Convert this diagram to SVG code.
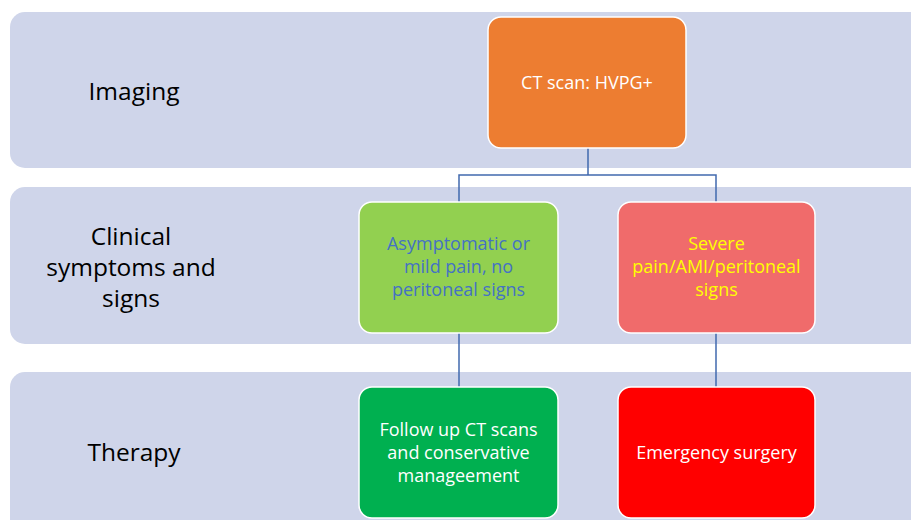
<svg xmlns="http://www.w3.org/2000/svg" width="911" height="520" viewBox="0 0 911 520">
<style>
.band{fill:#CFD5EA}
.lbl{font-family:"Open Sans","Noto Sans",sans-serif;font-size:24.5px;fill:#000;text-anchor:middle}
.box{stroke:#FFFFFF;stroke-width:1.5}
.t{font-family:"Open Sans","Noto Sans",sans-serif;font-size:18px;text-anchor:middle}
.conn{fill:none;stroke:#4169AE;stroke-width:1.5}
</style>
<rect width="911" height="520" fill="#FFFFFF"/>
<g id="band-imaging"><rect class="band" x="10" y="12" width="915" height="156" rx="15"/><text class="lbl" x="134" y="100">Imaging</text></g>
<g id="band-clinical"><rect class="band" x="10" y="187" width="915" height="157" rx="15"/><text class="lbl"><tspan x="131" y="245">Clinical</tspan><tspan x="131" y="276">symptoms and</tspan><tspan x="131" y="307">signs</tspan></text></g>
<g id="band-therapy"><rect class="band" x="10" y="372" width="915" height="165" rx="15"/><text class="lbl" x="134" y="461">Therapy</text></g>
<g id="connectors">
<path class="conn" d="M588 148 V175 M459 202 V175 H716 V202 M459 333 V387 M716 333 V387"/>
</g>
<g id="ct"><rect class="box" x="488" y="17" width="198" height="131" rx="13" fill="#ED7D31"/><text class="t" x="587" y="89" fill="#FFFFFF">CT scan: HVPG+</text></g>
<g id="mild"><rect class="box" x="359" y="202" width="199" height="131" rx="13" fill="#92D050"/><text class="t" fill="#4472C4"><tspan x="458.5" y="250">Asymptomatic or</tspan><tspan x="458.5" y="273">mild pain, no</tspan><tspan x="458.5" y="296">peritoneal signs</tspan></text></g>
<g id="severe"><rect class="box" x="618" y="202" width="197" height="131" rx="13" fill="#F06B6B"/><text class="t" fill="#FFFF00"><tspan x="716.5" y="250">Severe</tspan><tspan x="716.5" y="273">pain/AMI/peritoneal</tspan><tspan x="716.5" y="296">signs</tspan></text></g>
<g id="followup"><rect class="box" x="359" y="387" width="199" height="131" rx="13" fill="#00B050"/><text class="t" fill="#FFFFFF"><tspan x="458.5" y="436">Follow up CT scans</tspan><tspan x="458.5" y="459">and conservative</tspan><tspan x="458.5" y="482">manageement</tspan></text></g>
<g id="surgery"><rect class="box" x="618" y="387" width="197" height="131" rx="13" fill="#FF0000"/><text class="t" x="716.5" y="459" fill="#FFFFFF">Emergency surgery</text></g>
</svg>
